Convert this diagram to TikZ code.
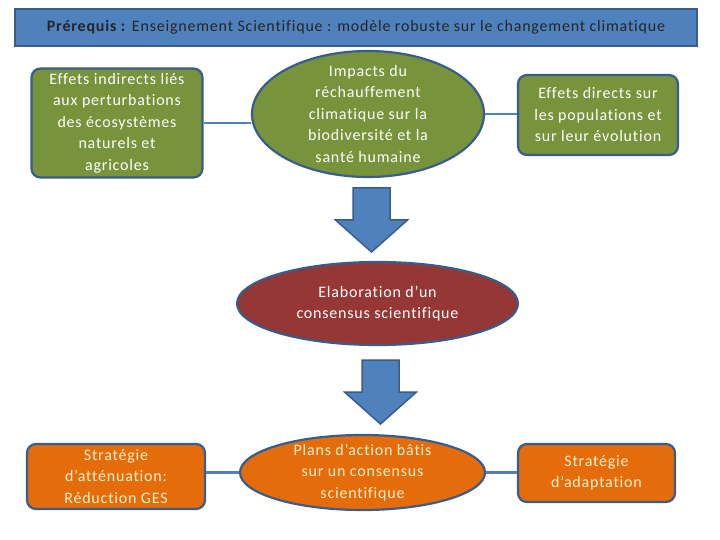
\documentclass[tikz,border=0pt]{standalone}
\usepackage{fontspec}
\setmainfont{Carlito}[LetterSpace=5, Ligatures=NoCommon]
\usetikzlibrary{shapes.geometric,positioning}
\definecolor{cBlue}{RGB}{79,129,189}
\definecolor{cEdge}{RGB}{56,93,138}
\definecolor{cGreen}{RGB}{119,147,60}
\definecolor{cRed}{RGB}{149,55,53}
\definecolor{cOrange}{RGB}{228,108,10}
\definecolor{cCream}{RGB}{255,240,205}

\begin{document}
\begin{tikzpicture}[x=1pt, y=-1pt, font=\fontsize{16}{21.5}\selectfont,
  box/.style={draw=cEdge, line width=2.2pt, rounded corners=9pt, align=center, inner sep=0pt},
  oval/.style={ellipse, draw=cEdge, line width=2.2pt, align=center, inner sep=0pt, inner ysep=-12pt},
  link/.style={draw=cBlue, line width=2.5pt}]
\useasboundingbox (0,0) rectangle (720,540);
% title bar
\node[draw=cEdge, fill=cBlue, line width=2.5pt, minimum width=682pt, minimum height=37pt,
      inner sep=0pt, text=black!85] (title) at (356,27.5)
  {\textbf{Prérequis :} Enseignement Scientifique : modèle robuste sur le changement climatique};
% top row
\node[box, fill=cGreen, text=white, minimum width=171pt, minimum height=109pt] (indirect) at (117,123)
  {Effets indirects liés\\aux perturbations\\des écosystèmes\\naturels et\\agricoles};
\node[oval, fill=cGreen, text=white, minimum width=232pt, minimum height=126pt] (impacts) at (368,114)
  {Impacts du\\réchauffement\\climatique sur la\\biodiversité et la\\santé humaine};
\node[box, fill=cGreen, text=white, minimum width=160pt, minimum height=80pt] (direct) at (598,115)
  {Effets directs sur\\les populations et\\sur leur évolution};
% middle
\node[oval, fill=cRed, text=white, minimum width=281pt, minimum height=83pt] (consensus) at (377.5,303.5)
  {Elaboration d’un\\consensus scientifique};
% bottom row
\node[box, fill=cOrange, text=cCream, minimum width=178pt, minimum height=65pt] (attenuation) at (116,476.5)
  {Stratégie\\d’atténuation:\\Réduction GES};
\node[oval, fill=cOrange, text=cCream, minimum width=245pt, minimum height=75pt] (plans) at (362.5,472.5)
  {Plans d’action bâtis\\sur un consensus\\scientifique};
\node[box, fill=cOrange, text=cCream, minimum width=157pt, minimum height=58pt] (adaptation) at (596.5,473)
  {Stratégie\\d’adaptation};
% connectors
\draw[link] (indirect.east) -- (indirect.east -| impacts.west);
\draw[link] (impacts.east) -- (impacts.east -| direct.west);
\draw[link] (plans.west) -- (plans.west -| attenuation.east);
\draw[link] (plans.east) -- (plans.east -| adaptation.west);
% block arrows
\foreach \cx/\ty in {371.5/188, 380.5/360} {
  \draw[fill=cBlue, draw=cEdge, line width=1.5pt]
    ({\cx-18.5},\ty) -- ({\cx+18.5},\ty) -- ({\cx+18.5},{\ty+32}) -- ({\cx+36},{\ty+32})
    -- (\cx,{\ty+64}) -- ({\cx-36},{\ty+32}) -- ({\cx-18.5},{\ty+32}) -- cycle;
}
\end{tikzpicture}
\end{document}
